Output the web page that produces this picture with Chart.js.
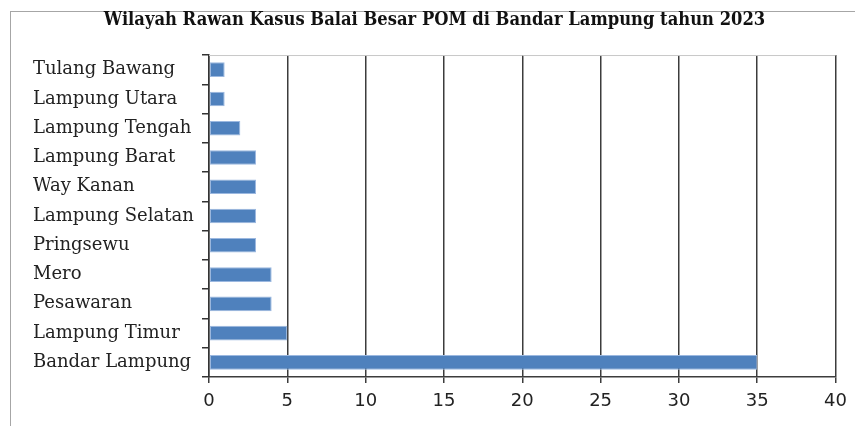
<!DOCTYPE html>
<html>
<head>
<meta charset="utf-8">
<script src="https://cdn.jsdelivr.net/npm/chart.js@4/dist/chart.umd.min.js"></script>
<style>
  html, body { margin: 0; padding: 0; background: #fff; overflow: hidden; }
  #wrap { position: relative; width: 855px; height: 426px; }
  #frame { position: absolute; left: 10px; top: 11px; width: 900px; height: 500px;
           border-left: 1px solid #a6a6a6; border-top: 1px solid #a6a6a6; }
  #c { position: absolute; left: 0; top: 0; }
</style>
</head>
<body>
<div id="wrap">
  <div id="frame"></div>
  <canvas id="c" width="855" height="426"></canvas>
</div>
<script>
// Kasus per wilayah (urutan dari atas ke bawah)
const wilayah = [
  'Tulang Bawang', 'Lampung Utara', 'Lampung Tengah', 'Lampung Barat',
  'Way Kanan', 'Lampung Selatan', 'Pringsewu', 'Mero', 'Pesawaran',
  'Lampung Timur', 'Bandar Lampung'
];
const jumlahKasus = [1, 1, 2, 3, 3, 3, 3, 4, 4, 5, 35];
const sumbuX = { min: 0, max: 40, step: 5 };
const judul = 'Wilayah Rawan Kasus Balai Besar POM di Bandar Lampung tahun 2023';

// garis tipis abu-abu di tepi atas area plot
const topEdge = {
  id: 'topEdge',
  beforeDatasetsDraw(chart) {
    const { ctx, chartArea } = chart;
    ctx.save();
    ctx.strokeStyle = '#c8c8c8';
    ctx.lineWidth = 1;
    ctx.beginPath();
    ctx.moveTo(chartArea.left, chartArea.top + 0.5);
    ctx.lineTo(chartArea.right, chartArea.top + 0.5);
    ctx.stroke();
    ctx.restore();
  }
};

new Chart(document.getElementById('c'), {
  type: 'bar',
  data: {
    labels: wilayah,
    datasets: [{
      data: jumlahKasus,
      backgroundColor: '#4f81bd',
      borderColor: '#9bb8e0',
      borderWidth: 1,
      borderSkipped: false,
      barPercentage: 0.5,
      categoryPercentage: 1
    }]
  },
  options: {
    indexAxis: 'y',
    responsive: false,
    animation: false,
    devicePixelRatio: 1,
    layout: { padding: { left: 33, right: 19, top: 0, bottom: 0 } },
    plugins: {
      legend: { display: false },
      tooltip: { enabled: false },
      title: {
        display: true,
        text: judul,
        color: '#111',
        font: { family: '"DejaVu Serif Condensed", "DejaVu Serif", serif', size: 18.2, weight: 'bold', lineHeight: 1.2 },
        padding: { top: 9, bottom: 24.2 }
      }
    },
    scales: {
      x: {
        min: sumbuX.min,
        max: sumbuX.max,
        ticks: {
          stepSize: sumbuX.step,
          color: '#222',
          padding: 8,
          font: { family: '"DejaVu Sans", sans-serif', size: 18 }
        },
        grid: {
          color: '#3c3c3c',
          lineWidth: 1.5,
          drawTicks: true,
          tickLength: 6,
          tickColor: '#3c3c3c'
        },
        border: { display: true, color: '#3c3c3c', width: 1.5 },
        afterFit(scale) { scale.height = 49; }
      },
      y: {
        offset: true,
        ticks: {
          crossAlign: 'far',
          color: '#222',
          font: { family: '"DejaVu Serif", serif', size: 18 }
        },
        grid: {
          offset: true,
          drawOnChartArea: false,
          drawTicks: true,
          tickLength: 7,
          color: '#333',
          lineWidth: 1.5
        },
        border: { display: true, color: '#333', width: 1.5 },
        afterFit(scale) { scale.width = 176; }
      }
    }
  },
  plugins: [topEdge]
});
</script>
</body>
</html>
